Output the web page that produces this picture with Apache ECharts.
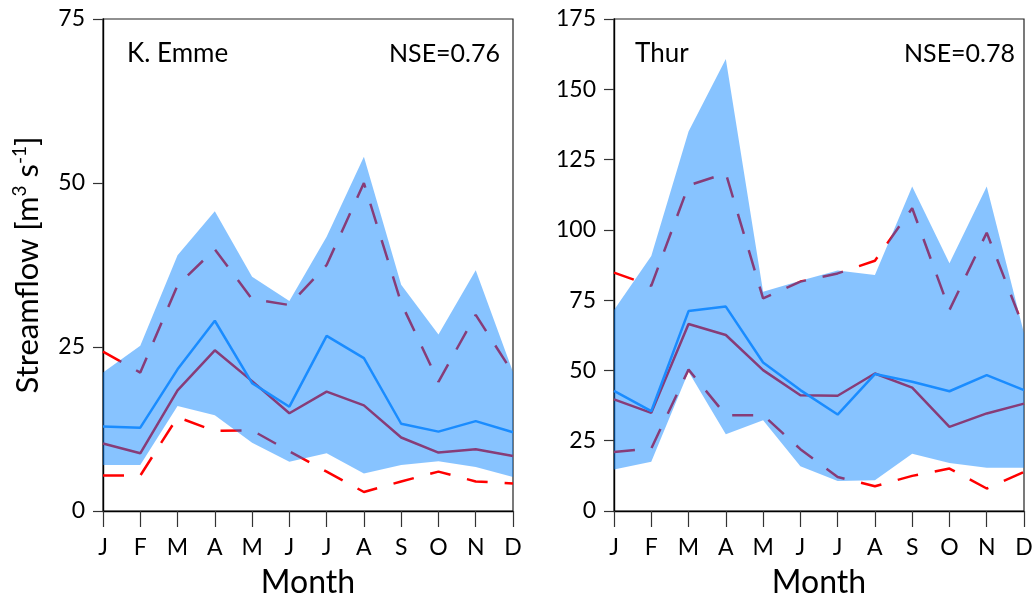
<!DOCTYPE html>
<html>
<head>
<meta charset="utf-8">
<script src="https://cdn.jsdelivr.net/npm/echarts@6/dist/echarts.min.js"></script>
<style>
  html, body { margin: 0; padding: 0; background: #fff; }
  #chart { width: 1034px; height: 602px; }
</style>
</head>
<body>
<div id="chart"></div>
<script>
// Month labels shared by both catchments
const months = ['J', 'F', 'M', 'A', 'M', 'J', 'J', 'A', 'S', 'O', 'N', 'D'];

// K. Emme: simulated range, simulated mean, observed mean, observed max / min
const emmeSimUpper = [21.1, 25.2, 39.0, 45.7, 35.7, 32.0, 41.8, 54.0, 34.5, 26.9, 36.7, 21.2];
const emmeSimLower = [7.0, 7.0, 16.0, 14.6, 10.4, 7.5, 8.8, 5.7, 7.0, 7.6, 6.7, 5.2];
const emmeSimMean  = [12.9, 12.7, 21.6, 29.0, 19.5, 15.9, 26.7, 23.3, 13.3, 12.1, 13.7, 12.0];
const emmeObsMean  = [10.3, 8.8, 18.4, 24.5, 19.8, 14.9, 18.2, 16.1, 11.2, 8.9, 9.4, 8.4];
const emmeObsMax   = [24.3, 21.1, 34.4, 39.9, 32.3, 31.4, 37.5, 50.0, 31.7, 19.7, 29.9, 21.0];
const emmeObsMin   = [5.4, 5.4, 14.3, 12.2, 12.3, 9.1, 6.0, 2.9, 4.5, 6.0, 4.5, 4.2];

// Thur
const thurSimUpper = [71.5, 90.7, 135.0, 160.8, 78.0, 81.9, 85.5, 83.9, 115.4, 88.1, 115.4, 63.2];
const thurSimLower = [14.8, 17.5, 49.5, 27.3, 32.3, 15.9, 10.7, 10.9, 20.4, 17.1, 15.4, 15.4];
const thurSimMean  = [42.7, 35.5, 71.1, 72.7, 52.8, 43.0, 34.3, 48.7, 46.0, 42.6, 48.3, 43.0];
const thurObsMean  = [39.7, 34.9, 66.5, 62.6, 50.1, 41.2, 41.0, 48.9, 43.9, 29.9, 34.7, 38.2];
const thurObsMax   = [84.8, 80.1, 115.8, 120.1, 75.6, 81.6, 84.5, 89.0, 107.7, 71.5, 99.0, 64.9];
const thurObsMin   = [21.0, 22.2, 50.3, 34.1, 34.1, 22.0, 12.1, 8.8, 12.5, 15.1, 8.0, 13.9];

// Axis settings
const emmeYMax = 75, thurYMax = 175, yStep = 25;

const FONT = 'Lato';
const RED = '#ff0000';
const BAND = 'rgba(0,128,255,0.47)';
const BLUE = '#1a8cff';

const panels = [
  { upper: emmeSimUpper, lower: emmeSimLower, sim: emmeSimMean, obs: emmeObsMean, max: emmeObsMax, min: emmeObsMin },
  { upper: thurSimUpper, lower: thurSimLower, sim: thurSimMean, obs: thurObsMean, max: thurObsMax, min: thurObsMin }
];

const grids = [
  { left: 103, top: 19, width: 410, height: 492 },
  { left: 614, top: 19, width: 410, height: 492 }
].map(g => Object.assign(g, {
  show: true, borderColor: '#222', borderWidth: 1.2, backgroundColor: 'transparent',
  containLabel: false, outerBoundsMode: 'none'
}));

const xAxes = [0, 1].map(i => ({
  type: 'category', gridIndex: i, data: months, boundaryGap: false,
  axisLine: { lineStyle: { color: '#000', width: 1.4 } },
  axisTick: { show: true, length: 16, interval: 0, lineStyle: { color: '#333', width: 1.2 } },
  axisLabel: { interval: 0, fontSize: 23, fontFamily: FONT, color: '#000', margin: 25 },
  splitLine: { show: false },
  name: 'Month', nameLocation: 'middle', nameGap: 56,
  nameTextStyle: { fontSize: 32, fontFamily: FONT, color: '#000' }
}));

const yAxes = [0, 1].map(i => ({
  type: 'value', gridIndex: i, min: 0, max: i === 0 ? emmeYMax : thurYMax, interval: yStep,
  axisLine: { show: true, lineStyle: { color: '#000', width: 1.4 } },
  axisTick: { show: true, length: 10, lineStyle: { color: '#333', width: 1.2 } },
  axisLabel: { fontSize: 23, fontFamily: FONT, color: '#000', margin: 18 },
  splitLine: { show: false },
  name: i === 0 ? 'Streamflow [m{sup|3} s{sup|-1}]' : '',
  nameLocation: 'middle', nameGap: 57, nameRotate: 90,
  nameTextStyle: {
    fontSize: 31, fontFamily: FONT, color: '#000', lineHeight: 36,
    rich: { sup: { fontSize: 19, fontFamily: FONT, color: '#000', verticalAlign: 'top', lineHeight: 36 } }
  }
}));

const series = [];
panels.forEach((p, i) => {
  const base = { xAxisIndex: i, yAxisIndex: i, type: 'line', symbol: 'none', silent: true };
  // observed extremes and mean, drawn beneath the translucent simulation band
  series.push(Object.assign({}, base, { z: 1, data: p.max, lineStyle: { color: RED, width: 2.5, type: [21, 17] } }));
  series.push(Object.assign({}, base, { z: 1, data: p.min, lineStyle: { color: RED, width: 2.5, type: [21, 17] } }));
  series.push(Object.assign({}, base, { z: 1, data: p.obs, lineStyle: { color: RED, width: 2.5 } }));
  // simulated range as a stacked band
  series.push(Object.assign({}, base, { z: 3, stack: 'band' + i, data: p.lower, lineStyle: { width: 0, opacity: 0 } }));
  series.push(Object.assign({}, base, {
    z: 3, stack: 'band' + i, data: p.upper.map((v, k) => +(v - p.lower[k]).toFixed(3)),
    lineStyle: { width: 0, opacity: 0 }, areaStyle: { color: BAND, opacity: 1 }
  }));
  // simulated mean
  series.push(Object.assign({}, base, { z: 4, data: p.sim, lineStyle: { color: BLUE, width: 2.5 } }));
});

const label = (text, x, align, size) => ({
  type: 'text', z: 100,
  style: { text, x, y: 54, align, verticalAlign: 'middle', fontSize: size, fontFamily: FONT, fill: '#000' }
});

const chart = echarts.init(document.getElementById('chart'), null, { renderer: 'canvas' });
chart.setOption({
  animation: false,
  backgroundColor: '#fff',
  grid: grids,
  xAxis: xAxes,
  yAxis: yAxes,
  series,
  graphic: [
    label('K. Emme', 127, 'left', 26),
    label('NSE=0.76', 500, 'right', 25),
    label('Thur', 635, 'left', 26),
    label('NSE=0.78', 1015, 'right', 25)
  ]
});
</script>
</body>
</html>
